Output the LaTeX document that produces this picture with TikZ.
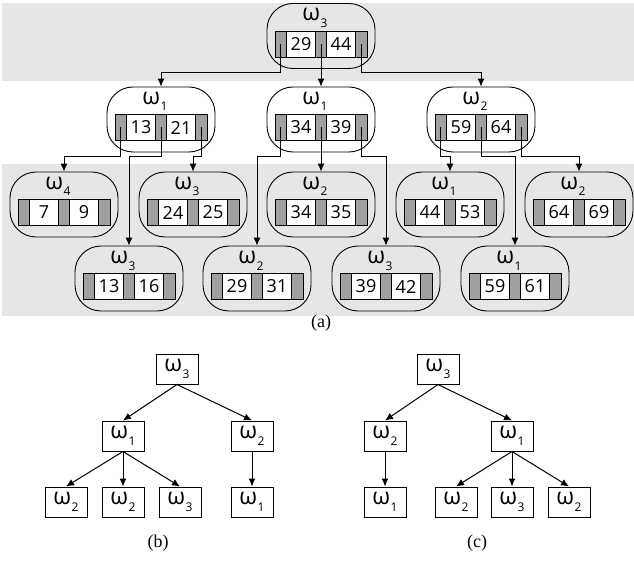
\documentclass[tikz,border=0pt]{standalone}
\usepackage{fontspec}
\setmainfont{Liberation Serif}
\newfontfamily\labfont{Open Sans}
\usetikzlibrary{arrows.meta}

\definecolor{band}{HTML}{E6E6E6}
\definecolor{ptr}{HTML}{A0A0A0}

\newcommand{\om}[1]{{\labfont\fontsize{23}{23}\selectfont ω\kern0.5pt\raisebox{-6.5pt}{\fontsize{12}{12}\selectfont #1}}}

\newcommand{\bnode}[6]{%
  \node[outer] (#1) at (#2,#3) {};
  \node[lab] (#1w) at (#2-6,#3-15) {\om{#4}};
  \node[ptrcell] (#1p1) at (#2-40.25,#3+8) {};
  \node[keycell] (#1k1) at (#2-20,#3+8) {#5};
  \node[ptrcell] (#1p2) at (#2,#3+8) {};
  \node[keycell] (#1k2) at (#2+20,#3+8) {#6};
  \node[ptrcell] (#1p3) at (#2+40.25,#3+8) {};
}

\begin{document}
\begin{tikzpicture}[x=1pt,y=-1pt,
  outer/.style={draw, rounded corners=26pt, minimum width=108pt, minimum height=65pt, line width=0.9pt},
  lab/.style={inner sep=0pt, anchor=base},
  ptrcell/.style={draw, fill=ptr, minimum width=11.5pt, minimum height=26pt, inner sep=0pt, line width=0.7pt},
  keycell/.style={draw, fill=white, minimum width=29pt, minimum height=26pt, inner sep=0pt, line width=0.7pt, font=\labfont\fontsize{18}{18}\selectfont},
  arr/.style={-{Latex[length=8pt,width=7pt]}, line width=1pt},
  sbox/.style={draw, minimum width=42pt, minimum height=30pt, inner sep=0pt, line width=1pt},
  sublabel/.style={font=\fontsize{18}{18}\selectfont}]
  \useasboundingbox (0,0) rectangle (634,561);
  \fill[band] (2,3) rectangle (634,81);
  \fill[band] (2,164) rectangle (634,316);

  \coordinate (bus1) at (0,73);
  \coordinate (bus2) at (0,157);

  \bnode{R}{321}{36}{3}{29}{44}
  \bnode{A}{161}{119.5}{1}{13}{21}
  \bnode{B}{321}{119.5}{1}{34}{39}
  \bnode{C}{481}{119.5}{2}{59}{64}
  \bnode{D}{64}{204.5}{4}{7}{9}
  \bnode{E}{193}{204.5}{3}{24}{25}
  \bnode{F}{321}{204.5}{2}{34}{35}
  \bnode{G}{450}{204.5}{1}{44}{53}
  \bnode{H}{579}{204.5}{2}{64}{69}
  \bnode{I}{129}{278.5}{3}{13}{16}
  \bnode{J}{257}{278.5}{2}{29}{31}
  \bnode{K}{386}{278.5}{3}{39}{42}
  \bnode{L}{515}{278.5}{1}{59}{61}

  \draw[arr] (Rp1.center) -- (Rp1.center |- bus1) -| (A.north);
  \draw[arr] (Rp2.center) -- (B.north);
  \draw[arr] (Rp3.center) -- (Rp3.center |- bus1) -| (C.north);
  \draw[arr] (Ap1.center) -- (Ap1.center |- bus2) -| (D.north);
  \draw[arr] (Ap2.center) -- (Ap2.center |- bus2) -| (I.north);
  \draw[arr] (Ap3.center) -- (Ap3.center |- bus2) -| (E.north);
  \draw[arr] (Bp1.center) -- (Bp1.center |- bus2) -| (J.north);
  \draw[arr] (Bp2.center) -- (F.north);
  \draw[arr] (Bp3.center) -- (Bp3.center |- bus2) -| (K.north);
  \draw[arr] (Cp1.center) -- (Cp1.center |- bus2) -| (G.north);
  \draw[arr] (Cp2.center) -- (Cp2.center |- bus2) -| (L.north);
  \draw[arr] (Cp3.center) -- (Cp3.center |- bus2) -| (H.north);

  \node[sublabel] (la) at (321,323) {(a)};

  \node[sbox] (bR) at (177,369) {\om{3}};
  \node[sbox] (b1) at (123,436) {\om{1}};
  \node[sbox] (b2) at (252,436) {\om{2}};
  \node[sbox] (b11) at (66,502) {\om{2}};
  \node[sbox] (b12) at (123,502) {\om{2}};
  \node[sbox] (b13) at (180,502) {\om{3}};
  \node[sbox] (b21) at (252,502) {\om{1}};
  \draw[arr] (bR.south) -- (b1.north);
  \draw[arr] (bR.south) -- (b2.north);
  \draw[arr] (b1.south) -- (b11.north);
  \draw[arr] (b1.south) -- (b12.north);
  \draw[arr] (b1.south) -- (b13.north);
  \draw[arr] (b2.south) -- (b21.north);
  \node[sublabel] (lb) at (158,543) {(b)};

  \node[sbox] (cR) at (438,369) {\om{3}};
  \node[sbox] (c1) at (385,436) {\om{2}};
  \node[sbox] (c2) at (512,436) {\om{1}};
  \node[sbox] (c11) at (385,502) {\om{1}};
  \node[sbox] (c21) at (456,502) {\om{2}};
  \node[sbox] (c22) at (512,502) {\om{3}};
  \node[sbox] (c23) at (569,502) {\om{2}};
  \draw[arr] (cR.south) -- (c1.north);
  \draw[arr] (cR.south) -- (c2.north);
  \draw[arr] (c1.south) -- (c11.north);
  \draw[arr] (c2.south) -- (c21.north);
  \draw[arr] (c2.south) -- (c22.north);
  \draw[arr] (c2.south) -- (c23.north);
  \node[sublabel] (lc) at (477,543) {(c)};
\end{tikzpicture}
\end{document}
